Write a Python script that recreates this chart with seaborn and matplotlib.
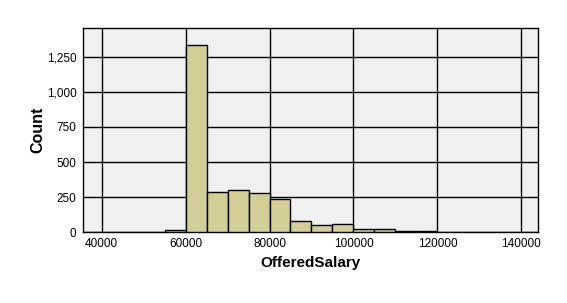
import matplotlib
matplotlib.use("Agg")
import matplotlib.pyplot as plt
import seaborn as sns
from matplotlib.ticker import FuncFormatter

# histogram bins (bin start, count), bin width 5000
bin_start = [55000, 60000, 65000, 70000, 75000, 80000, 85000, 90000,
             95000, 100000, 105000, 110000, 115000]
counts = [14, 1336, 286, 300, 279, 236, 79, 50, 57, 21, 20, 7, 7]
bin_width = 5000
edges = bin_start + [bin_start[-1] + bin_width]
mids = [b + bin_width / 2 for b in bin_start]

x_ticks = [40000, 60000, 80000, 100000, 120000, 140000]
y_ticks = [0, 250, 500, 750, 1000, 1250]

sns.set_style("white")
plt.rcParams['font.family'] = ['Liberation Sans', 'DejaVu Sans']

fig = plt.figure(figsize=(5.67, 3.03), dpi=100)
ax = fig.add_axes([0.146, 0.234, 0.803, 0.674])
ax.set_facecolor("#F0F0F0")

sns.histplot(x=mids, weights=counts, bins=edges, ax=ax,
             color="#D3CE97", edgecolor="black", linewidth=1.0,
             alpha=1, zorder=3)

ax.set_xlim(35500, 144000)
ax.set_ylim(0, 1457)
ax.set_xticks(x_ticks)
ax.set_yticks(y_ticks)
ax.yaxis.set_major_formatter(FuncFormatter(lambda v, p: f"{int(v):,}"))
ax.grid(True, color="black", linewidth=1.0, zorder=0)
ax.set_axisbelow(True)

for s in ax.spines.values():
    s.set_color("black")
    s.set_linewidth(1.0)

ax.tick_params(axis="both", direction="out", length=3, width=1, pad=1.5,
               color="black", labelsize=8.5, labelcolor="black")
ax.set_xlabel("OfferedSalary", fontsize=11, fontweight="bold",
              color="black", labelpad=4)
ax.set_ylabel("Count", fontsize=11.5, fontweight="bold",
              color="black", labelpad=1)

fig.savefig("out.png", dpi=100)
